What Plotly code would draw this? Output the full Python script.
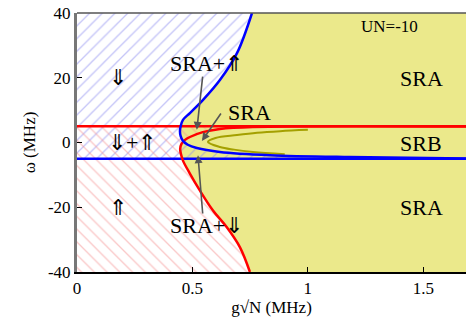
import plotly.graph_objects as go

# ---- data ----
x_max = 1.685
y_min, y_max = -40, 40
level_red = 5
level_blue = -5

# blue boundary (top to asymptote y=-5)
blue_y = [40, 27.6, 19.3, 13.1, 9.1, 7.0, 5.0, 3.5, 2.0, 0.5, -0.7, -1.7, -2.9, -3.9, -4.5, -4.95]
blue_x = [0.758, 0.693, 0.619, 0.545, 0.489, 0.459, 0.449, 0.446, 0.449, 0.459, 0.48, 0.519, 0.619, 0.835, 1.18, 1.70]

# red boundary (bottom to asymptote y=5)
red_y = [-40, -32.4, -26.2, -21, -14.8, -9.6, -5.6, -3.5, -2.0, -0.5, 0.8, 1.7, 3.2, 4.2, 4.8, 4.95]
red_x = [0.749, 0.706, 0.649, 0.589, 0.532, 0.489, 0.459, 0.450, 0.447, 0.452, 0.468, 0.489, 0.545, 0.619, 0.762, 1.70]

# olive inner curve
olive_y = [3.9, 3.5, 3.0, 2.3, 1.4, 0.2, -1.4, -2.2, -2.9, -3.6]
olive_x = [1.0, 0.88, 0.78, 0.693, 0.600, 0.567, 0.619, 0.68, 0.762, 0.9]

x_ticks = [0, 0.5, 1, 1.5]
x_tick_text = ["0", "0.5", "1", "1.5"]
y_ticks = [-40, -20, 0, 20, 40]
y_tick_text = ["-40", "-20", "0", "20", "40"]

labels = ["\u21d3", "\u21d3+\u21d1", "\u21d1", "SRA+\u21d1", "SRA", "SRA+\u21d3", "SRA", "SRB", "SRA"]
label_x = [0.177, 0.238, 0.177, 0.563, 0.749, 0.563, 1.493, 1.49, 1.493]
label_y = [20, 0.1, -20, 24.5, 9.4, -25.5, 19.9, -0.2, -20.2]
un_text = "UN=-10"
un_x, un_y = 1.355, 35.7

# arrows: tail (label) -> head
arrow_tail_x = [0.545, 0.628, 0.545]
arrow_tail_y = [20.8, 9.4, -22.4]
arrow_head_x = [0.519, 0.541, 0.524]
arrow_head_y = [3.9, 0.5, -3.9]

FONT = "Liberation Serif"
YELLOW = "#ebe98b"
BLUE_HATCH = "#8a8af0"
RED_HATCH = "#f59090"

fig = go.Figure()

# yellow region (right of the union of boundaries)
n_b = 10
yx = [x_max + 0.05] + blue_x[:n_b] + red_x[:n_b][::-1] + [x_max + 0.05]
yy = [y_max] + blue_y[:n_b] + red_y[:n_b][::-1] + [y_min]
fig.add_trace(go.Scatter(x=yx, y=yy, fill="toself", fillcolor=YELLOW,
                         line=dict(width=0), mode="lines", hoverinfo="skip", showlegend=False))

# blue hatched region
bhx = [0] + blue_x + [x_max + 0.05, 0]
bhy = [y_max] + blue_y + [level_blue, level_blue]
fig.add_trace(go.Scatter(x=bhx, y=bhy, fill="toself", fillcolor="rgba(0,0,0,0)",
                         fillpattern=dict(shape="/", fgcolor=BLUE_HATCH, size=9, solidity=0.15),
                         line=dict(width=0), mode="lines", hoverinfo="skip", showlegend=False))

# red hatched region
rhx = [0] + red_x + [x_max + 0.05, 0]
rhy = [y_min] + red_y + [level_red, level_red]
fig.add_trace(go.Scatter(x=rhx, y=rhy, fill="toself", fillcolor="rgba(0,0,0,0)",
                         fillpattern=dict(shape="\\", fgcolor=RED_HATCH, size=9, solidity=0.15),
                         line=dict(width=0), mode="lines", hoverinfo="skip", showlegend=False))

# olive curve
fig.add_trace(go.Scatter(x=olive_x, y=olive_y, mode="lines", line=dict(color="#a4a000", width=2, shape="spline"),
                         showlegend=False, hoverinfo="skip"))

# horizontal level lines
fig.add_trace(go.Scatter(x=[0, x_max + 0.05], y=[level_red, level_red], mode="lines",
                         line=dict(color="#ff0000", width=2.5), showlegend=False))
fig.add_trace(go.Scatter(x=[0, x_max + 0.05], y=[level_blue, level_blue], mode="lines",
                         line=dict(color="#0000ff", width=2.5), showlegend=False))

# boundary curves
fig.add_trace(go.Scatter(x=red_x, y=red_y, mode="lines", line=dict(color="#ff0000", width=2.5, shape="spline"),
                         showlegend=False))
fig.add_trace(go.Scatter(x=blue_x, y=blue_y, mode="lines", line=dict(color="#0000ff", width=2.5, shape="spline"),
                         showlegend=False))

annotations = []
for t, lx, ly in zip(labels, label_x, label_y):
    annotations.append(dict(x=lx, y=ly, xref="x", yref="y", text=t, showarrow=False,
                            font=dict(family=FONT, size=22, color="black")))
annotations.append(dict(x=un_x, y=un_y, xref="x", yref="y", text=un_text, showarrow=False,
                        font=dict(family=FONT, size=17, color="black")))
for tx, ty, hx, hy in zip(arrow_tail_x, arrow_tail_y, arrow_head_x, arrow_head_y):
    annotations.append(dict(x=hx, y=hy, ax=tx, ay=ty, xref="x", yref="y", axref="x", ayref="y",
                            text="", showarrow=True, arrowhead=2, arrowsize=1, arrowwidth=1.6,
                            arrowcolor="#555555"))

fig.update_layout(
    width=466, height=321,
    margin=dict(l=77, r=0, t=13, b=49),
    paper_bgcolor="white", plot_bgcolor="white",
    font=dict(family=FONT, size=17, color="black"),
    annotations=annotations,
    shapes=[dict(type="line", xref="paper", yref="paper", x0=0, x1=1, y0=1, y1=1,
                 line=dict(color="#555555", width=1.5))],
    xaxis=dict(range=[0, x_max], tickvals=x_ticks, ticktext=x_tick_text, ticks="inside", ticklen=5,
               tickcolor="black", showgrid=False, zeroline=False, showline=True, linecolor="black",
               linewidth=1.5, title=dict(text="g\u221aN (MHz)", standoff=2, font=dict(family=FONT, size=17)),
               tickfont=dict(family=FONT, size=17)),
    yaxis=dict(range=[y_min, y_max], tickvals=y_ticks, ticktext=y_tick_text, ticks="inside", ticklen=5,
               tickcolor="black", showgrid=False, zeroline=False, showline=True, linecolor="#777777",
               linewidth=3, title=dict(text="\u03c9 (MHz)", standoff=8, font=dict(family=FONT, size=17)),
               tickfont=dict(family=FONT, size=17)),
)

fig.write_html("out.html", config={"displayModeBar": False},
               post_script="document.body.style.margin='0px';document.body.style.overflow='hidden';")
